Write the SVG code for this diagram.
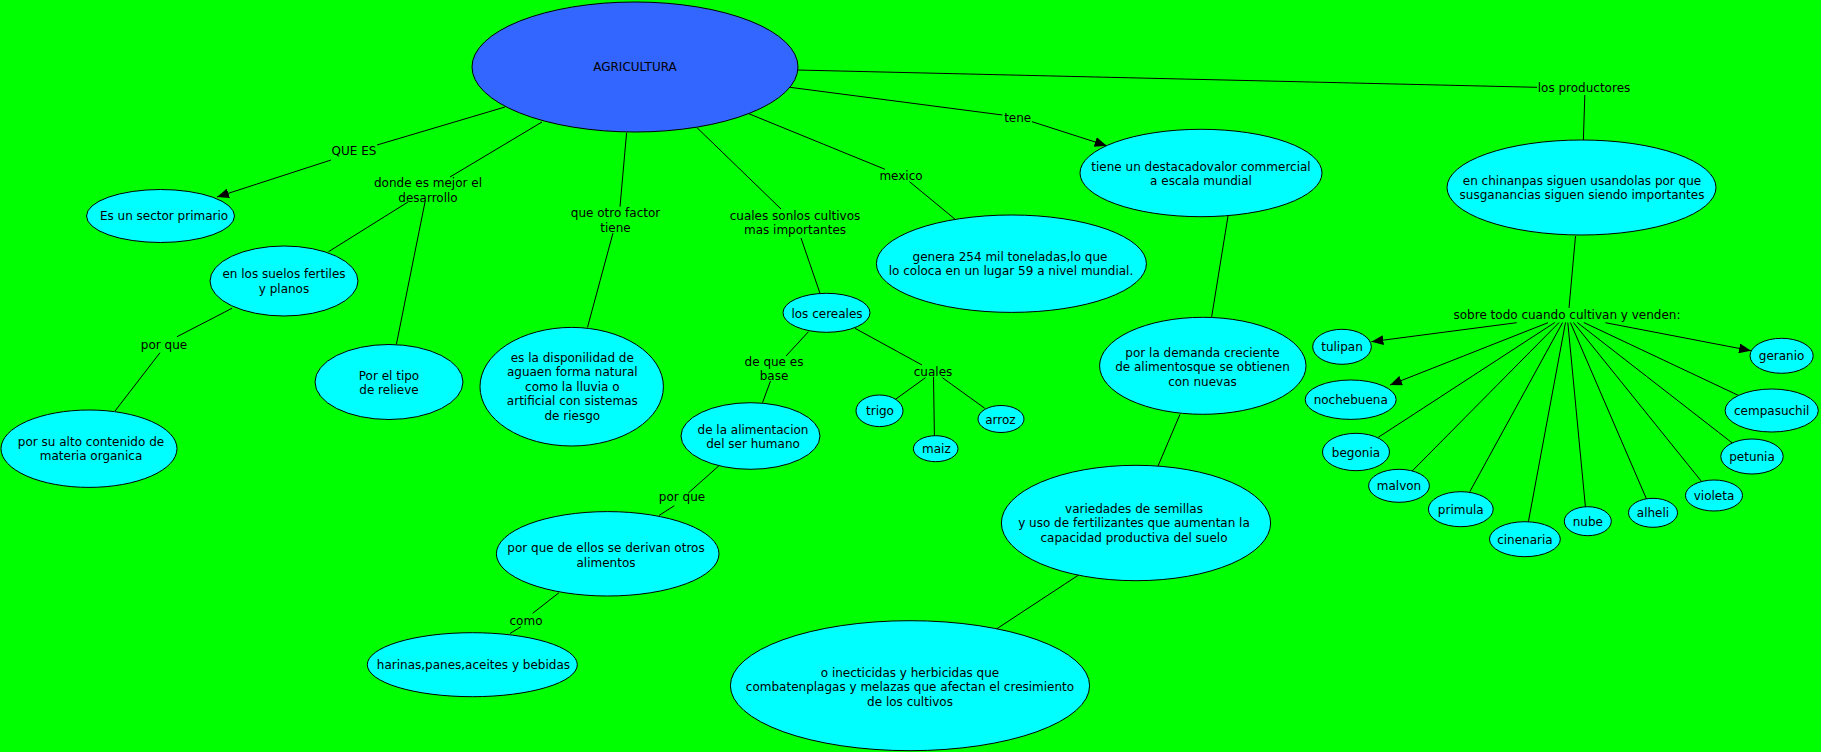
<svg xmlns="http://www.w3.org/2000/svg" width="1821" height="752" viewBox="0 0 1821 752">
<style>
.n{fill:#00ffff;stroke:#000;stroke-width:1}
.c line{stroke:#000;stroke-width:1}
text{font-family:"DejaVu Sans",Verdana,sans-serif;font-size:12px;fill:#000;text-anchor:middle}
</style>
<defs>
<marker id="ar" markerUnits="userSpaceOnUse" markerWidth="12" markerHeight="10" refX="12" refY="5" orient="auto"><path d="M0,0 L12,5 L0,10 z" fill="#000"/></marker>
</defs>
<rect width="1821" height="752" fill="#00ff00"/>
<g id="connectors" class="c">
<line x1="505" y1="107" x2="377" y2="145"/>
<line x1="331" y1="160" x2="217" y2="197" marker-end="url(#ar)"/>
<line x1="542" y1="122" x2="450" y2="177"/>
<line x1="408" y1="202" x2="328.5" y2="251.7"/>
<line x1="425" y1="202" x2="396.4" y2="344.3"/>
<line x1="626.6" y1="132.7" x2="620" y2="206.7"/>
<line x1="613" y1="233" x2="587.5" y2="327.3"/>
<line x1="697" y1="127.7" x2="781" y2="209"/>
<line x1="801" y1="238" x2="820" y2="293.3"/>
<line x1="749" y1="113.8" x2="885" y2="169.3"/>
<line x1="909.5" y1="181.7" x2="956" y2="220"/>
<line x1="790" y1="87.3" x2="1002.4" y2="115"/>
<line x1="1032" y1="121.7" x2="1106.7" y2="145.7" marker-end="url(#ar)"/>
<line x1="797" y1="70" x2="1537" y2="87.3"/>
<line x1="1584.8" y1="95" x2="1583.4" y2="140"/>
<line x1="1228" y1="216" x2="1211.6" y2="317.3"/>
<line x1="1180" y1="414.3" x2="1158" y2="466"/>
<line x1="1078.6" y1="575" x2="996" y2="629.3"/>
<line x1="232" y1="308.3" x2="177" y2="336.7"/>
<line x1="160" y1="352.7" x2="115" y2="411"/>
<line x1="808.5" y1="331.7" x2="786" y2="356"/>
<line x1="770.5" y1="381" x2="762.5" y2="402.7"/>
<line x1="719" y1="465.7" x2="688.3" y2="493"/>
<line x1="674.3" y1="505.7" x2="659" y2="515.5"/>
<line x1="559" y1="592.7" x2="532.7" y2="613.3"/>
<line x1="521" y1="626.7" x2="510" y2="633.5"/>
<line x1="855" y1="328.3" x2="922" y2="365"/>
<line x1="925.4" y1="377.7" x2="895.5" y2="399.3"/>
<line x1="933.5" y1="376.7" x2="934.4" y2="436"/>
<line x1="942.4" y1="377.7" x2="984.8" y2="408.3"/>
<line x1="1575.5" y1="236" x2="1569" y2="308"/>
<line x1="1516.7" y1="322.7" x2="1371.4" y2="341.7" marker-end="url(#ar)"/>
<line x1="1548" y1="322.7" x2="1390" y2="385" marker-end="url(#ar)"/>
<line x1="1554.8" y1="322.5" x2="1378.3" y2="437.3"/>
<line x1="1559.1" y1="322.5" x2="1412.2" y2="471"/>
<line x1="1562.6" y1="322.5" x2="1469.8" y2="491.7"/>
<line x1="1565.5" y1="322.5" x2="1528.4" y2="521.7"/>
<line x1="1567.8" y1="322.5" x2="1585.4" y2="506.7"/>
<line x1="1570.4" y1="322.5" x2="1646.5" y2="499"/>
<line x1="1573.4" y1="322.5" x2="1701.7" y2="481.7"/>
<line x1="1577.3" y1="322.5" x2="1732.7" y2="443.3"/>
<line x1="1583.8" y1="322.5" x2="1739" y2="395.7"/>
<line x1="1605.4" y1="322.7" x2="1751" y2="350.7" marker-end="url(#ar)"/>
</g>
<g id="labels">
<text x="354" y="154.5">QUE ES</text>
<text x="428" y="187">donde es mejor el</text>
<text x="428" y="201.5">desarrollo</text>
<text x="615.5" y="217">que otro factor</text>
<text x="615.5" y="231.5">tiene</text>
<text x="795" y="219.5">cuales sonlos cultivos</text>
<text x="795" y="234">mas importantes</text>
<text x="901" y="180">mexico</text>
<text x="1017.7" y="122">tene</text>
<text x="1584" y="92">los productores</text>
<text x="164" y="348.5">por que</text>
<text x="774" y="365.5">de que es</text>
<text x="774" y="380">base</text>
<text x="682" y="501">por que</text>
<text x="526" y="624.5">como</text>
<text x="933" y="375.5">cuales</text>
<text x="1567" y="318.5">sobre todo cuando cultivan y venden:</text>
</g>
<g id="agricultura"><ellipse cx="635" cy="67" rx="163" ry="65" fill="#3366ff" stroke="#000"/><text x="635" y="71">AGRICULTURA</text></g>
<g id="sector"><ellipse class="n" cx="160.5" cy="216" rx="74" ry="26.5"/><text x="164" y="219.5">Es un sector primario</text></g>
<g id="suelos"><ellipse class="n" cx="284" cy="281" rx="74" ry="35"/><text x="284" y="278">en los suelos fertiles</text><text x="284" y="292.5">y planos</text></g>
<g id="alto"><ellipse class="n" cx="89" cy="448.7" rx="88" ry="38.7"/><text x="91" y="445.5">por su alto contenido de</text><text x="91" y="460">materia organica</text></g>
<g id="relieve"><ellipse class="n" cx="389" cy="382" rx="74" ry="37.5"/><text x="389" y="379.5">Por el tipo</text><text x="389" y="394">de relieve</text></g>
<g id="agua"><ellipse class="n" cx="571.7" cy="386.7" rx="91.7" ry="59.3"/><text x="572.3" y="361.5">es la disponilidad de</text><text x="572.3" y="376">aguaen forma natural</text><text x="572.3" y="390.5">como la lluvia o</text><text x="572.3" y="405">artificial con sistemas</text><text x="572.3" y="419.5">de riesgo</text></g>
<g id="cereales"><ellipse class="n" cx="826.5" cy="312.8" rx="43.5" ry="19.5"/><text x="827" y="317.5">los cereales</text></g>
<g id="alimentacion"><ellipse class="n" cx="750.5" cy="436" rx="69.5" ry="33.3"/><text x="753" y="433.5">de la alimentacion</text><text x="753" y="448">del ser humano</text></g>
<g id="derivan"><ellipse class="n" cx="607.7" cy="553.8" rx="111.3" ry="42.2"/><text x="606" y="552">por que de ellos se derivan otros</text><text x="606" y="566.5">alimentos</text></g>
<g id="harinas"><ellipse class="n" cx="472.3" cy="664.7" rx="105" ry="32"/><text x="473.4" y="668.5">harinas,panes,aceites y bebidas</text></g>
<g id="trigo"><ellipse class="n" cx="879.5" cy="410.8" rx="23.5" ry="15.8"/><text x="880" y="414.5">trigo</text></g>
<g id="maiz"><ellipse class="n" cx="935.7" cy="448.7" rx="22.3" ry="13"/><text x="936.4" y="453">maiz</text></g>
<g id="arroz"><ellipse class="n" cx="1001" cy="419" rx="23" ry="13.5"/><text x="1000.4" y="423.5">arroz</text></g>
<g id="genera"><ellipse class="n" cx="1011.4" cy="263.7" rx="135" ry="48.7"/><text x="1010" y="260.5">genera 254 mil toneladas,lo que</text><text x="1011" y="275">lo coloca en un lugar 59 a nivel mundial.</text></g>
<g id="valor"><ellipse class="n" cx="1201" cy="173" rx="121" ry="43.7"/><text x="1201" y="170.5">tiene un destacadovalor commercial</text><text x="1201" y="185">a escala mundial</text></g>
<g id="demanda"><ellipse class="n" cx="1202.8" cy="365.8" rx="103.2" ry="48.5"/><text x="1202.5" y="356.5">por la demanda creciente</text><text x="1202.5" y="371">de alimentosque se obtienen</text><text x="1202.5" y="385.5">con nuevas</text></g>
<g id="variedades"><ellipse class="n" cx="1136" cy="523" rx="134.6" ry="57.7"/><text x="1134" y="512.5">variedades de semillas</text><text x="1134" y="527">y uso de fertilizantes que aumentan la</text><text x="1134" y="541.5">capacidad productiva del suelo</text></g>
<g id="inecticidas"><ellipse class="n" cx="910" cy="685.7" rx="179.6" ry="65"/><text x="910" y="676.5">o inecticidas y herbicidas que</text><text x="910" y="691">combatenplagas y melazas que afectan el cresimiento</text><text x="910" y="705.5">de los cultivos</text></g>
<g id="chinanpas"><ellipse class="n" cx="1581.5" cy="187.5" rx="134.5" ry="47.5"/><text x="1582" y="184.5">en chinanpas siguen usandolas por que</text><text x="1582" y="199">susganancias siguen siendo importantes</text></g>
<g id="tulipan"><ellipse class="n" cx="1342" cy="346.8" rx="29.3" ry="17.5"/><text x="1342" y="350.5">tulipan</text></g>
<g id="nochebuena"><ellipse class="n" cx="1350.7" cy="399.7" rx="45.5" ry="19.7"/><text x="1350.7" y="404">nochebuena</text></g>
<g id="begonia"><ellipse class="n" cx="1356" cy="452" rx="33.5" ry="18.7"/><text x="1356" y="456.5">begonia</text></g>
<g id="malvon"><ellipse class="n" cx="1399" cy="485.8" rx="30.4" ry="16.5"/><text x="1399" y="490">malvon</text></g>
<g id="primula"><ellipse class="n" cx="1460.8" cy="509.2" rx="32.4" ry="17.5"/><text x="1460.8" y="513.5">primula</text></g>
<g id="cinenaria"><ellipse class="n" cx="1524.9" cy="539.2" rx="35.4" ry="17.5"/><text x="1524.9" y="543.5">cinenaria</text></g>
<g id="nube"><ellipse class="n" cx="1587.8" cy="521.2" rx="23.5" ry="14.5"/><text x="1587.8" y="525.5">nube</text></g>
<g id="alheli"><ellipse class="n" cx="1653" cy="512.8" rx="24.5" ry="14.5"/><text x="1653" y="517">alheli</text></g>
<g id="violeta"><ellipse class="n" cx="1714" cy="495.5" rx="28.5" ry="15.5"/><text x="1714" y="500">violeta</text></g>
<g id="petunia"><ellipse class="n" cx="1752" cy="456.5" rx="31.2" ry="17.5"/><text x="1752" y="461">petunia</text></g>
<g id="cempasuchil"><ellipse class="n" cx="1771.7" cy="410.5" rx="46.6" ry="21.5"/><text x="1771.7" y="415">cempasuchil</text></g>
<g id="geranio"><ellipse class="n" cx="1781.6" cy="355.8" rx="31.6" ry="17.5"/><text x="1781.6" y="360">geranio</text></g>
</svg>
